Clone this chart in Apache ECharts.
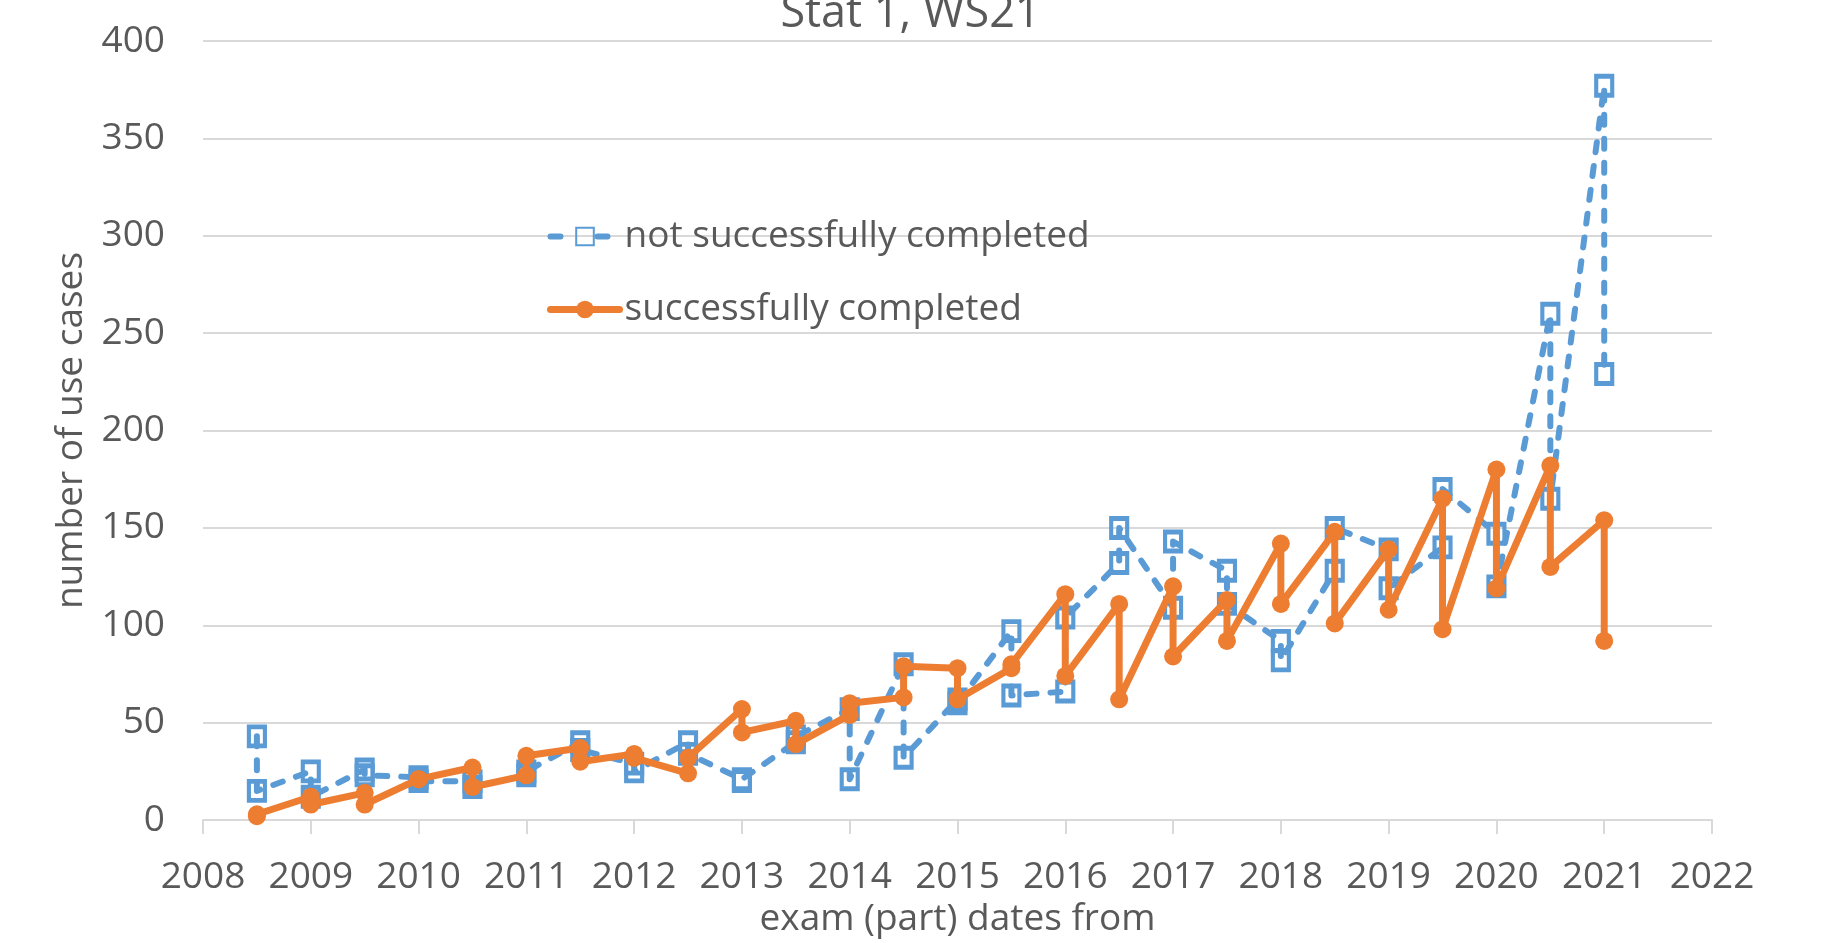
<!DOCTYPE html>
<html>
<head>
<meta charset="utf-8">
<script src="https://cdn.jsdelivr.net/npm/echarts@6/dist/echarts.min.js"></script>
<style>
html,body{margin:0;padding:0;background:#ffffff;}
#chart{width:1821px;height:943px;}
</style>
</head>
<body>
<div id="chart"></div>
<script>
// exam (part) dates — each date has two recorded values, in drawing order
const examDates = [
  2008.5, 2008.5, 2009, 2009, 2009.5, 2009.5, 2010, 2010, 2010.5, 2010.5,
  2011, 2011, 2011.5, 2011.5, 2012, 2012, 2012.5, 2012.5, 2013, 2013,
  2013.5, 2013.5, 2014, 2014, 2014.5, 2014.5, 2015, 2015, 2015.5, 2015.5,
  2016, 2016, 2016.5, 2016.5, 2017, 2017, 2017.5, 2017.5, 2018, 2018,
  2018.5, 2018.5, 2019, 2019, 2019.5, 2019.5, 2020, 2020, 2020.5, 2020.5,
  2021, 2021
];
const notSuccessful = [
  43, 15, 25, 12, 26, 23, 22, 20, 20, 17,
  23, 25, 40, 36, 29, 25, 40, 34, 21, 20,
  40, 43, 57, 21, 80, 32, 62, 60, 97, 64,
  66, 104, 132, 150, 109, 143, 128, 111, 92, 82,
  128, 150, 139, 119, 140, 170, 147, 120, 260, 165,
  377, 229
];
const successful = [
  3, 2, 12, 8, 14, 8, 21, 21, 27, 17,
  23, 33, 37, 30, 34, 32, 24, 32, 57, 45,
  51, 39, 54, 60, 63, 79, 78, 62, 78, 80,
  116, 74, 111, 62, 120, 84, 113, 92, 142, 111,
  148, 101, 139, 108, 165, 98, 180, 119, 182, 130,
  154, 92
];
const seriesNames = ['not successfully completed', 'successfully completed'];
const xMin = 2008, xMax = 2022, xStep = 1;
const yMin = 0, yMax = 400, yStep = 50;

const FONT = "'Open Sans', 'Noto Sans', sans-serif";
const TXT = '#595959';
const GRID = '#D9D9D9';
const BLUE = '#5B9BD5';
const ORANGE = '#ED7D31';

function pairs(xs, ys) { return xs.map((x, i) => [x, ys[i]]); }

const chart = echarts.init(document.getElementById('chart'));
chart.setOption({
  animation: false,
  backgroundColor: '#ffffff',
  textStyle: { fontFamily: FONT },
  title: {
    text: 'Stat 1, WS21',
    left: 'center',
    top: -13,
    textStyle: { fontFamily: FONT, fontSize: 45, fontWeight: 'normal', color: TXT }
  },
  legend: {
    orient: 'vertical',
    left: 542,
    top: 213,
    itemWidth: 69,
    itemHeight: 22,
    itemGap: 36,
    textStyle: { fontFamily: FONT, fontSize: 37, color: TXT },
    data: [
      { name: seriesNames[0], lineStyle: { color: BLUE, width: 6, type: [10, 37], cap: 'round' } },
      { name: seriesNames[1], lineStyle: { color: ORANGE, width: 7, cap: 'round' } }
    ]
  },
  grid: { left: 203, right: 109, top: 41, bottom: 120 },
  xAxis: {
    type: 'value',
    min: xMin, max: xMax, interval: xStep,
    name: 'exam (part) dates from',
    nameLocation: 'middle',
    nameGap: 73,
    nameTextStyle: { fontFamily: FONT, fontSize: 37, color: TXT },
    axisLine: { show: true, lineStyle: { color: GRID, width: 2 } },
    axisTick: { show: true, length: 14, lineStyle: { color: GRID, width: 2 } },
    splitLine: { show: false },
    axisLabel: {
      fontFamily: FONT, fontSize: 37, color: TXT, margin: 39,
      formatter: v => String(v)
    }
  },
  yAxis: {
    type: 'value',
    min: yMin, max: yMax, interval: yStep,
    name: 'number of use cases',
    nameLocation: 'middle',
    nameGap: 113,
    nameTextStyle: { fontFamily: FONT, fontSize: 37, color: TXT },
    axisLine: { show: false },
    axisTick: { show: false },
    splitLine: { show: true, lineStyle: { color: GRID, width: 2 } },
    axisLabel: { fontFamily: FONT, fontSize: 37, color: TXT, margin: 38 }
  },
  series: [
    {
      name: seriesNames[0],
      type: 'line',
      data: pairs(examDates, notSuccessful),
      symbol: 'rect',
      symbolSize: [16, 19],
      showAllSymbol: true,
      itemStyle: { color: 'rgba(255,255,255,0)', borderColor: BLUE, borderWidth: 4.5 },
      lineStyle: { color: BLUE, width: 6, type: [10, 14], cap: 'round', join: 'round' },
      z: 2
    },
    {
      name: seriesNames[1],
      type: 'line',
      data: pairs(examDates, successful),
      symbol: 'circle',
      symbolSize: 18,
      showAllSymbol: true,
      itemStyle: { color: ORANGE },
      lineStyle: { color: ORANGE, width: 7, cap: 'round', join: 'round' },
      z: 3
    }
  ]
});
</script>
</body>
</html>
